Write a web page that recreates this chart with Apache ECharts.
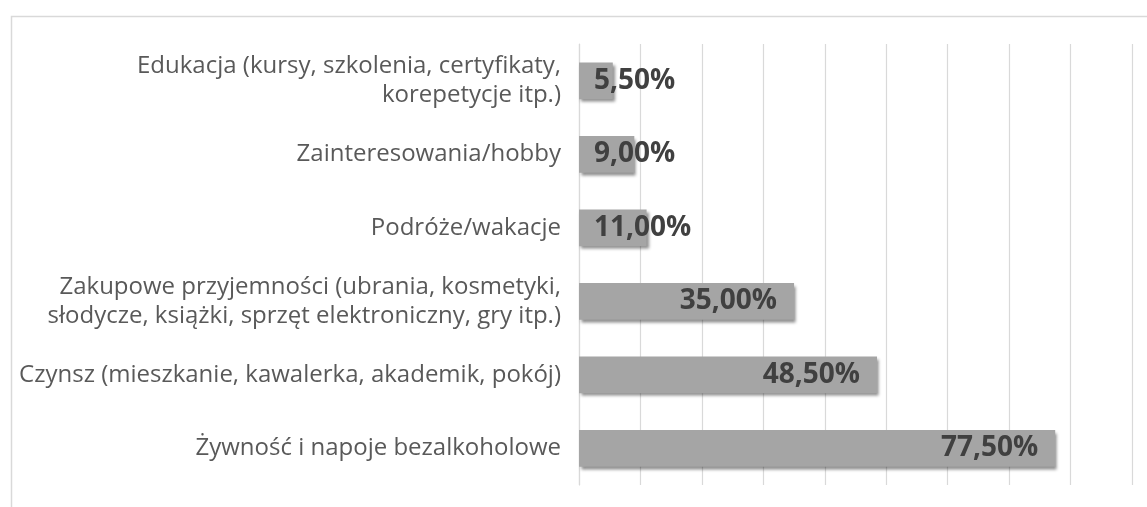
<!DOCTYPE html>
<html>
<head>
<meta charset="utf-8">
<script src="https://cdn.jsdelivr.net/npm/echarts@6/dist/echarts.min.js"></script>
<style>
  html, body { margin: 0; padding: 0; background: #fff; }
  #chart { width: 1147px; height: 507px; }
</style>
</head>
<body>
<div id="chart"></div>
<script>
// kategorie (od góry do dołu)
const categories = [
    'Edukacja (kursy, szkolenia, certyfikaty,\nkorepetycje itp.)',
    'Zainteresowania/hobby',
    'Podróże/wakacje',
    'Zakupowe przyjemności (ubrania, kosmetyki,\nsłodycze, książki, sprzęt elektroniczny, gry itp.)',
    'Czynsz (mieszkanie, kawalerka, akademik, pokój)',
    'Żywność i napoje bezalkoholowe'
];
// odsetek odpowiedzi w %
const values = [5.5, 9, 11, 35, 48.5, 77.5];

// oś X: 0-90%, co 10
const axisMin = 0;
const axisMax = 90;
const axisStep = 10;

function fmt(v) {
    return v.toFixed(2).replace('.', ',') + '%';
}

const myChart = echarts.init(document.getElementById('chart'));

// krótkie słupki - etykieta od lewej, jak w Excelu
const barData = values.map(function (v) {
    return {
        value: v,
        label: v < 20 ? { position: 'insideLeft', distance: 15 } : { position: 'insideRight', distance: 17 }
    };
});

let option = {
    animation: false,
    backgroundColor: '#ffffff',
    graphic: [{
        type: 'rect',
        left: 9,
        top: 14,
        shape: { width: 1200, height: 600 },
        style: { fill: 'none', stroke: '#d9d9d9', lineWidth: 1.5 },
        silent: true
    }],
    grid: {
        left: 579,
        right: 15,
        top: 44,
        bottom: 22,
        containLabel: false
    },
    xAxis: {
        type: 'value',
        min: axisMin,
        max: axisMax,
        interval: axisStep,
        axisLabel: { show: false },
        axisLine: { show: false },
        axisTick: { show: false },
        splitLine: { lineStyle: { color: '#d9d9d9', width: 1.2 } }
    },
    yAxis: {
        type: 'category',
        inverse: true,
        data: categories,
        axisTick: { show: false },
        axisLine: { lineStyle: { color: '#d9d9d9', width: 1.2 } },
        axisLabel: {
            margin: 18,
            align: 'right',
            color: '#595959',
            fontFamily: 'Open Sans',
            fontSize: 24,
            lineHeight: 29
        }
    },
    series: [{
        type: 'bar',
        data: barData,
        barWidth: '50%',
        itemStyle: {
            color: '#a5a5a5',
            shadowColor: 'rgba(0,0,0,0.45)',
            shadowBlur: 3,
            shadowOffsetX: 2,
            shadowOffsetY: 3
        },
        label: {
            show: true,
            formatter: function (p) { return fmt(p.value); },
            color: '#404040',
            fontFamily: 'Open Sans',
            fontWeight: 'bold',
            fontSize: 28
        }
    }]
};
option && myChart.setOption(option);
</script>
</body>
</html>
